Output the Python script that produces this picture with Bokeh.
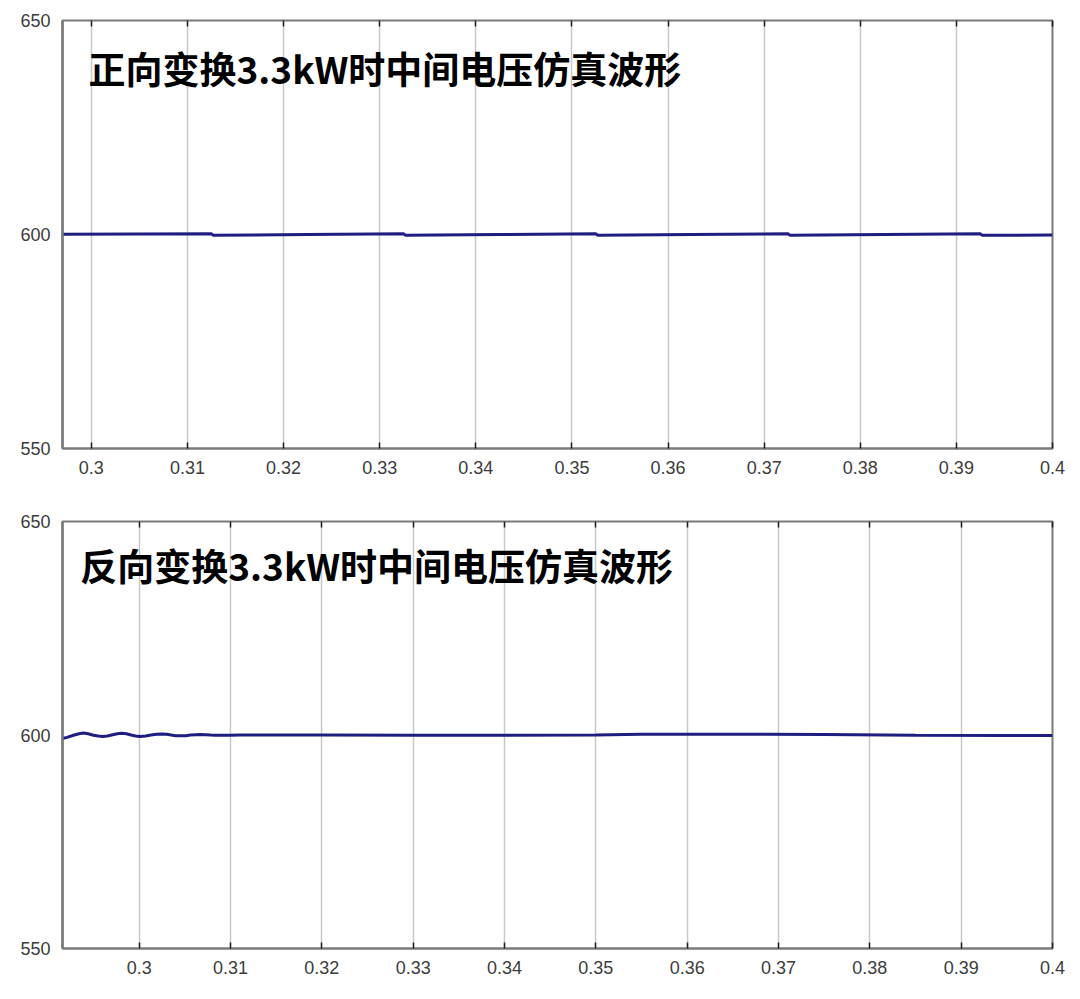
from bokeh.plotting import figure
from bokeh.layouts import column
from bokeh.models import FixedTicker, LinearAxis, Range1d, Label
from bokeh.embed import file_html
from bokeh.resources import INLINE

# ---- data ----
tick_vals = [0.3, 0.31, 0.32, 0.33, 0.34, 0.35, 0.36, 0.37, 0.38, 0.39, 0.4]
tick_labels = ["0.3", "0.31", "0.32", "0.33", "0.34", "0.35", "0.36", "0.37", "0.38", "0.39", "0.4"]
y_ticks = [550, 600, 650]

title_top = "正向变换3.3kW时中间电压仿真波形"
title_bot = "反向变换3.3kW时中间电压仿真波形"

t_top = [0.297, 0.3050, 0.3125, 0.3127, 0.3225, 0.3325, 0.3327, 0.3425, 0.3525, 0.3527,
         0.3625, 0.3725, 0.3727, 0.3825, 0.3925, 0.3927, 0.4]
v_top = [600.05, 600.10, 600.15, 599.80, 600.00, 600.15, 599.80, 600.00, 600.15, 599.80,
         600.00, 600.15, 599.80, 600.00, 600.15, 599.80, 599.90]

t_bot = [0.2916, 0.2921, 0.2928, 0.2934, 0.2939, 0.2944, 0.2950, 0.2955, 0.2960, 0.2965,
         0.2971, 0.2976, 0.2981, 0.2986, 0.2991, 0.2996, 0.3001, 0.3007, 0.3013, 0.3019,
         0.3025, 0.3030, 0.3035, 0.3040, 0.3045, 0.3051, 0.3056, 0.3062, 0.3067, 0.3073,
         0.3078, 0.3083, 0.3089, 0.3100, 0.3110, 0.3200, 0.3300, 0.3400, 0.3500, 0.3550,
         0.3650, 0.3750, 0.3850, 0.3950, 0.4]
v_bot = [599.20, 599.45, 599.95, 600.30, 600.45, 600.30, 599.95, 599.75, 599.65, 599.75,
         600.05, 600.30, 600.40, 600.30, 600.00, 599.78, 599.65, 599.75, 600.00, 600.18,
         600.25, 600.18, 600.00, 599.85, 599.80, 599.85, 600.00, 600.08, 600.10, 600.06,
         600.00, 599.95, 599.93, 599.97, 600.00, 600.00, 599.95, 599.95, 600.00, 600.15,
         600.20, 600.10, 599.95, 599.90, 599.90]

FRAME = "#7a7a7a"
LINE = "#1e1e80"


def make_plot(t, v, xstart, title, tx, ty, height, top, bottom):
    p = figure(width=1072, height=height, output_backend="svg", toolbar_location=None,
               x_range=Range1d(xstart, 0.4), y_range=Range1d(550, 650),
               min_border_left=62, min_border_right=20,
               min_border_top=top, min_border_bottom=bottom)
    p.background_fill_color = "white"
    p.border_fill_color = "white"
    p.outline_line_color = FRAME
    p.outline_line_width = 2

    p.line(t, v, line_color=LINE, line_width=3)

    # x axis (below)
    xa = p.xaxis[0]
    xa.ticker = FixedTicker(ticks=tick_vals)
    xa.major_label_overrides = {tv: tl for tv, tl in zip(tick_vals, tick_labels)}
    xa.minor_tick_line_color = None
    xa.major_tick_in = 6
    xa.major_tick_out = 0
    xa.major_tick_line_color = "#202020"
    xa.major_tick_line_width = 1.5
    xa.axis_line_color = FRAME
    xa.axis_line_width = 2
    xa.major_label_text_font = "Liberation Sans"
    xa.major_label_text_font_size = "18px"
    xa.major_label_text_color = "#3c3c3c"
    xa.major_label_standoff = 12

    # top ticks (no labels)
    ta = LinearAxis(ticker=FixedTicker(ticks=tick_vals))
    ta.major_label_overrides = {tv: "" for tv in tick_vals}
    ta.major_label_standoff = 0
    ta.minor_tick_line_color = None
    ta.major_tick_in = 6
    ta.major_tick_out = 0
    ta.major_tick_line_color = "#202020"
    ta.major_tick_line_width = 1.5
    ta.axis_line_color = None
    p.add_layout(ta, "above")

    # y axis
    ya = p.yaxis[0]
    ya.ticker = FixedTicker(ticks=y_ticks)
    ya.minor_tick_line_color = None
    ya.major_tick_in = 0
    ya.major_tick_out = 0
    ya.axis_line_color = FRAME
    ya.axis_line_width = 2.5
    ya.major_label_text_font = "Liberation Sans"
    ya.major_label_text_font_size = "18px"
    ya.major_label_text_color = "#3c3c3c"
    ya.major_label_standoff = 12

    p.ygrid.grid_line_color = None
    p.xgrid.ticker = FixedTicker(ticks=tick_vals)
    p.xgrid.grid_line_color = "#c8c8c8"
    p.xgrid.grid_line_width = 1.5

    p.add_layout(Label(x=tx, y=ty, text=title, text_font="Noto Sans CJK SC",
                       text_font_style="bold", text_font_size="37px",
                       text_color="black", text_align="left", text_baseline="middle"))
    return p


p1 = make_plot(t_top, v_top, 0.297, title_top, 0.2997, 638.8, 500, 20, 52)
p2 = make_plot(t_bot, v_bot, 0.2916, title_bot, 0.29354, 639.7, 488, 21, 40)

layout = column(p1, p2, spacing=0)
open("out.html", "w").write(file_html(layout, INLINE))
